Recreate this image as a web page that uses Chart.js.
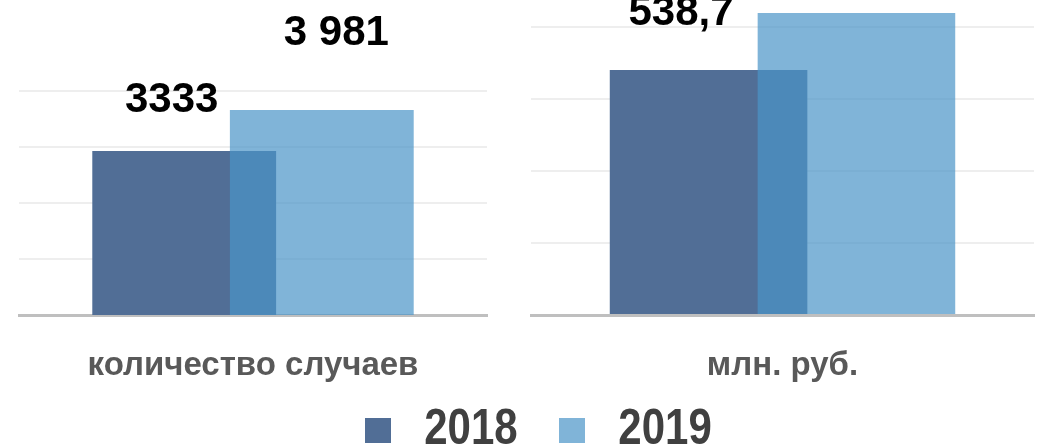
<!DOCTYPE html>
<html><head><meta charset="utf-8">
<script src="https://cdn.jsdelivr.net/npm/chart.js@4.4.1/dist/chart.umd.min.js"></script>
<style>
html,body{margin:0;padding:0;background:#fff;}
#wrap{position:relative;width:1061px;height:446px;overflow:hidden;background:#fff;}
.box{position:absolute;}
</style></head><body>
<div id="wrap">
  <div class="box" style="left:0;top:0;width:510px;height:446px"><canvas id="c1"></canvas></div>
  <div class="box" style="left:510px;top:0;width:551px;height:446px"><canvas id="c2"></canvas></div>
  <div class="box" style="left:2px;top:380px;width:1061px;height:66px"><canvas id="c3"></canvas></div>
</div>
<script>
// ---- data ----
const seriesNames = ['2018', '2019'];
const countCategory = ['количество случаев'];
const countValues = [3333, 3981];
const countLabels = ['3333', '3 981'];
const moneyCategory = ['млн. руб.'];
const moneyValues = [538.7, 664];
const moneyLabels = ['538,7', '664'];
const countGrid = [741, 1626, 2511, 3396, 4281];
const moneyGrid = [0, 158.3, 316.6, 475, 633.3];
const countRange = [741, 5720];
const moneyRange = [0, 692.6];

// ---- styles ----
const colors = ['#516e96', 'rgba(74,148,199,0.7)'];
const FAM = "'Liberation Sans', Arial, sans-serif";

const drawInOrder = {
  id: 'drawInOrder',
  beforeDatasetsDraw(chart) {
    const ctx = chart.ctx, a = chart.chartArea;
    ctx.save();
    ctx.beginPath();
    ctx.rect(a.left, a.top, a.right - a.left, a.bottom - a.top);
    ctx.clip();
    chart.data.datasets.forEach((d, i) => {
      const m = chart.getDatasetMeta(i);
      if (!m.hidden) m.controller.draw();
    });
    ctx.restore();
    return false;
  }
};

const valueLabels = {
  id: 'valueLabels',
  afterDraw(chart, args, opts) {
    const ctx = chart.ctx;
    ctx.save();
    ctx.font = 'bold 42px ' + FAM;
    ctx.fillStyle = '#000';
    ctx.textAlign = 'center';
    ctx.textBaseline = 'alphabetic';
    chart.data.datasets.forEach((ds, i) => {
      const bar = chart.getDatasetMeta(i).data[0];
      const off = opts.offsets[i];
      ctx.fillText(opts.texts[i], bar.x + off.dx, bar.y - off.dy);
    });
    ctx.restore();
  }
};

function panel(id, category, values, texts, grid, range, pad, offsets) {
  return new Chart(document.getElementById(id), {
    type: 'bar',
    data: {
      labels: category,
      datasets: seriesNames.map((n, i) => ({
        label: n,
        data: [values[i]],
        backgroundColor: colors[i],
        borderWidth: 0,
        categoryPercentage: 0.588,
        barPercentage: 1.336
      }))
    },
    options: {
      responsive: true,
      maintainAspectRatio: false,
      animation: false,
      devicePixelRatio: 1,
      layout: { padding: { left: pad[0], right: pad[1], top: 0, bottom: 0 } },
      plugins: {
        legend: { display: false },
        tooltip: { enabled: false },
        valueLabels: { offsets: offsets, texts: texts }
      },
      scales: {
        x: {
          grid: { display: true, drawOnChartArea: false, drawTicks: false },
          border: { display: true, color: '#bfbfbf', width: 3 },
          ticks: {
            color: '#595959',
            font: { family: FAM, size: 33, weight: 'bold' },
            padding: 31, maxRotation: 0, minRotation: 0
          },
          afterFit: s => { s.height = 446 - 315; }
        },
        y: {
          min: range[0], max: range[1],
          ticks: { display: false },
          grid: { color: '#eeeeee', lineWidth: 2, drawTicks: false },
          border: { display: false },
          afterBuildTicks: s => { s.ticks = grid.map(v => ({ value: v })); }
        }
      }
    },
    plugins: [drawInOrder, valueLabels]
  });
}

panel('c1', countCategory, countValues, countLabels, countGrid, countRange, [19, 23],
  [{ dx: -12.5, dy: 39 }, { dx: 14.5, dy: 65 }]);
panel('c2', moneyCategory, moneyValues, moneyLabels, moneyGrid, moneyRange, [21, 27],
  [{ dx: -27.5, dy: 45 }, { dx: -27.5, dy: 45 }]);

// legend (shared), text stretched vertically like the original
const LEG_SY = 1.2, LEG_CY = 50.6;
function swatch(color) {
  const c = document.createElement('canvas');
  c.width = 26; c.height = 21;
  const g = c.getContext('2d');
  g.fillStyle = color; g.fillRect(0, 0, 26, 21);
  return c;
}
const stretch = {
  id: 'stretch',
  beforeDraw(chart) {
    const ctx = chart.ctx;
    ctx.save();
    ctx.translate(0, LEG_CY); ctx.scale(1, LEG_SY); ctx.translate(0, -LEG_CY);
  },
  afterDraw(chart) { chart.ctx.restore(); }
};

new Chart(document.getElementById('c3'), {
  type: 'bar',
  data: {
    labels: [],
    datasets: seriesNames.map((n, i) => ({ label: n, data: [], backgroundColor: colors[i] }))
  },
  options: {
    responsive: true, maintainAspectRatio: false, animation: false, devicePixelRatio: 1,
    layout: { padding: 0 },
    scales: { x: { display: false }, y: { display: false } },
    plugins: {
      tooltip: { enabled: false },
      legend: {
        display: true, position: 'top', maxHeight: 400,
        labels: {
          usePointStyle: true, pointStyleWidth: 50, boxHeight: 21,
          padding: 29.6, color: '#404040',
          font: { family: FAM, size: 42, weight: 'bold' },
          generateLabels: chart => chart.data.datasets.map((ds, i) => ({
            text: ds.label, fillStyle: ds.backgroundColor, strokeStyle: ds.backgroundColor,
            lineWidth: 0, pointStyle: swatch(ds.backgroundColor), datasetIndex: i, hidden: false,
            fontColor: '#404040'
          }))
        }
      }
    }
  },
  plugins: [stretch]
});
</script>
</body></html>
